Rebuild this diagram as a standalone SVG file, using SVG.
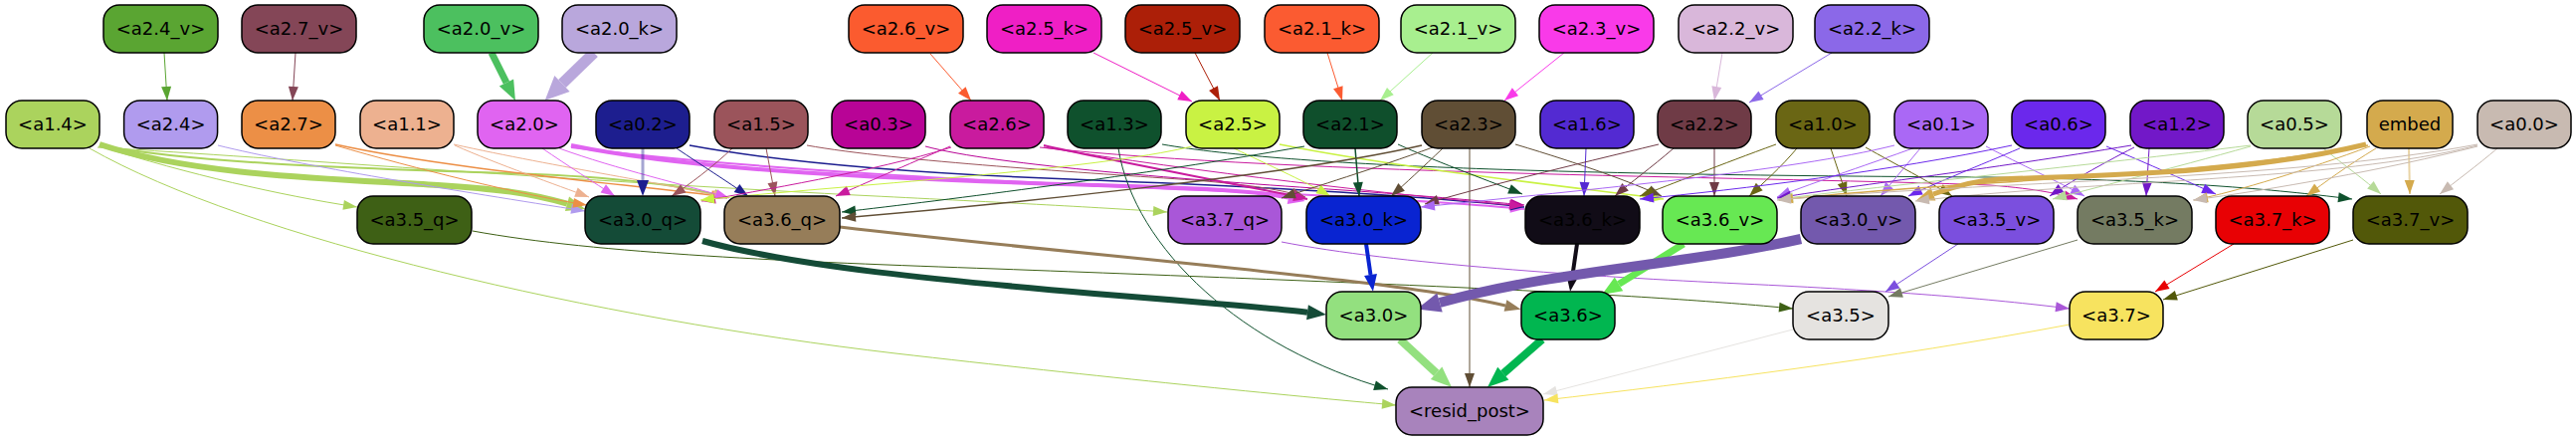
<svg xmlns="http://www.w3.org/2000/svg" width="2589" height="443" viewBox="0 0 2589 443">
<style>
.n rect{stroke:#000;stroke-width:1.5}
.n text{font-family:"DejaVu Sans","Liberation Sans",sans-serif;font-size:18px;text-anchor:middle;fill:#000}
#edges path{fill:none}
marker{overflow:visible}
</style>
<defs>
<marker id="m-a24v" markerUnits="userSpaceOnUse" markerWidth="14" markerHeight="10" refX="14" refY="5" orient="auto"><path d="M0,0L14,5L0,10z" fill="#5aa532"/></marker>
<marker id="m-a27v" markerUnits="userSpaceOnUse" markerWidth="14" markerHeight="10" refX="14" refY="5" orient="auto"><path d="M0,0L14,5L0,10z" fill="#844657"/></marker>
<marker id="m-a26v" markerUnits="userSpaceOnUse" markerWidth="14" markerHeight="10" refX="14" refY="5" orient="auto"><path d="M0,0L14,5L0,10z" fill="#fb5b2f"/></marker>
<marker id="m-a25k" markerUnits="userSpaceOnUse" markerWidth="14" markerHeight="10" refX="14" refY="5" orient="auto"><path d="M0,0L14,5L0,10z" fill="#ef1fc5"/></marker>
<marker id="m-a25v" markerUnits="userSpaceOnUse" markerWidth="14" markerHeight="10" refX="14" refY="5" orient="auto"><path d="M0,0L14,5L0,10z" fill="#ac1f08"/></marker>
<marker id="m-a21k" markerUnits="userSpaceOnUse" markerWidth="14" markerHeight="10" refX="14" refY="5" orient="auto"><path d="M0,0L14,5L0,10z" fill="#fb5b31"/></marker>
<marker id="m-a21v" markerUnits="userSpaceOnUse" markerWidth="14" markerHeight="10" refX="14" refY="5" orient="auto"><path d="M0,0L14,5L0,10z" fill="#a8ef8f"/></marker>
<marker id="m-a23v" markerUnits="userSpaceOnUse" markerWidth="14" markerHeight="10" refX="14" refY="5" orient="auto"><path d="M0,0L14,5L0,10z" fill="#f93ae9"/></marker>
<marker id="m-a22v" markerUnits="userSpaceOnUse" markerWidth="14" markerHeight="10" refX="14" refY="5" orient="auto"><path d="M0,0L14,5L0,10z" fill="#d9b7da"/></marker>
<marker id="m-a22k" markerUnits="userSpaceOnUse" markerWidth="14" markerHeight="10" refX="14" refY="5" orient="auto"><path d="M0,0L14,5L0,10z" fill="#8b68e8"/></marker>
<marker id="m-a14" markerUnits="userSpaceOnUse" markerWidth="14" markerHeight="10" refX="14" refY="5" orient="auto"><path d="M0,0L14,5L0,10z" fill="#abd35d"/></marker>
<marker id="m-a24" markerUnits="userSpaceOnUse" markerWidth="14" markerHeight="10" refX="14" refY="5" orient="auto"><path d="M0,0L14,5L0,10z" fill="#b09bee"/></marker>
<marker id="m-a27" markerUnits="userSpaceOnUse" markerWidth="14" markerHeight="10" refX="14" refY="5" orient="auto"><path d="M0,0L14,5L0,10z" fill="#ec8f46"/></marker>
<marker id="m-a11" markerUnits="userSpaceOnUse" markerWidth="14" markerHeight="10" refX="14" refY="5" orient="auto"><path d="M0,0L14,5L0,10z" fill="#edb190"/></marker>
<marker id="m-a20" markerUnits="userSpaceOnUse" markerWidth="14" markerHeight="10" refX="14" refY="5" orient="auto"><path d="M0,0L14,5L0,10z" fill="#e064f1"/></marker>
<marker id="m-a02" markerUnits="userSpaceOnUse" markerWidth="14" markerHeight="10" refX="14" refY="5" orient="auto"><path d="M0,0L14,5L0,10z" fill="#1d1e8f"/></marker>
<marker id="m-a15" markerUnits="userSpaceOnUse" markerWidth="14" markerHeight="10" refX="14" refY="5" orient="auto"><path d="M0,0L14,5L0,10z" fill="#9b545b"/></marker>
<marker id="m-a03" markerUnits="userSpaceOnUse" markerWidth="14" markerHeight="10" refX="14" refY="5" orient="auto"><path d="M0,0L14,5L0,10z" fill="#b80496"/></marker>
<marker id="m-a26" markerUnits="userSpaceOnUse" markerWidth="14" markerHeight="10" refX="14" refY="5" orient="auto"><path d="M0,0L14,5L0,10z" fill="#c91b9e"/></marker>
<marker id="m-a13" markerUnits="userSpaceOnUse" markerWidth="14" markerHeight="10" refX="14" refY="5" orient="auto"><path d="M0,0L14,5L0,10z" fill="#0f512d"/></marker>
<marker id="m-a25" markerUnits="userSpaceOnUse" markerWidth="14" markerHeight="10" refX="14" refY="5" orient="auto"><path d="M0,0L14,5L0,10z" fill="#c9f243"/></marker>
<marker id="m-a21" markerUnits="userSpaceOnUse" markerWidth="14" markerHeight="10" refX="14" refY="5" orient="auto"><path d="M0,0L14,5L0,10z" fill="#0f4f2c"/></marker>
<marker id="m-a23" markerUnits="userSpaceOnUse" markerWidth="14" markerHeight="10" refX="14" refY="5" orient="auto"><path d="M0,0L14,5L0,10z" fill="#604e35"/></marker>
<marker id="m-a16" markerUnits="userSpaceOnUse" markerWidth="14" markerHeight="10" refX="14" refY="5" orient="auto"><path d="M0,0L14,5L0,10z" fill="#532ad2"/></marker>
<marker id="m-a22" markerUnits="userSpaceOnUse" markerWidth="14" markerHeight="10" refX="14" refY="5" orient="auto"><path d="M0,0L14,5L0,10z" fill="#6f3b46"/></marker>
<marker id="m-a10" markerUnits="userSpaceOnUse" markerWidth="14" markerHeight="10" refX="14" refY="5" orient="auto"><path d="M0,0L14,5L0,10z" fill="#6a6614"/></marker>
<marker id="m-a01" markerUnits="userSpaceOnUse" markerWidth="14" markerHeight="10" refX="14" refY="5" orient="auto"><path d="M0,0L14,5L0,10z" fill="#aa68f5"/></marker>
<marker id="m-a06" markerUnits="userSpaceOnUse" markerWidth="14" markerHeight="10" refX="14" refY="5" orient="auto"><path d="M0,0L14,5L0,10z" fill="#6b28ec"/></marker>
<marker id="m-a12" markerUnits="userSpaceOnUse" markerWidth="14" markerHeight="10" refX="14" refY="5" orient="auto"><path d="M0,0L14,5L0,10z" fill="#7218c8"/></marker>
<marker id="m-a05" markerUnits="userSpaceOnUse" markerWidth="14" markerHeight="10" refX="14" refY="5" orient="auto"><path d="M0,0L14,5L0,10z" fill="#b6da98"/></marker>
<marker id="m-emb" markerUnits="userSpaceOnUse" markerWidth="14" markerHeight="10" refX="14" refY="5" orient="auto"><path d="M0,0L14,5L0,10z" fill="#d4aa4d"/></marker>
<marker id="m-a00" markerUnits="userSpaceOnUse" markerWidth="14" markerHeight="10" refX="14" refY="5" orient="auto"><path d="M0,0L14,5L0,10z" fill="#c8bab1"/></marker>
<marker id="m-a35q" markerUnits="userSpaceOnUse" markerWidth="14" markerHeight="10" refX="14" refY="5" orient="auto"><path d="M0,0L14,5L0,10z" fill="#3e6015"/></marker>
<marker id="m-a37q" markerUnits="userSpaceOnUse" markerWidth="14" markerHeight="10" refX="14" refY="5" orient="auto"><path d="M0,0L14,5L0,10z" fill="#a957d8"/></marker>
<marker id="m-a35v" markerUnits="userSpaceOnUse" markerWidth="14" markerHeight="10" refX="14" refY="5" orient="auto"><path d="M0,0L14,5L0,10z" fill="#7b4fde"/></marker>
<marker id="m-a35k" markerUnits="userSpaceOnUse" markerWidth="14" markerHeight="10" refX="14" refY="5" orient="auto"><path d="M0,0L14,5L0,10z" fill="#747b62"/></marker>
<marker id="m-a37k" markerUnits="userSpaceOnUse" markerWidth="14" markerHeight="10" refX="14" refY="5" orient="auto"><path d="M0,0L14,5L0,10z" fill="#e80104"/></marker>
<marker id="m-a37v" markerUnits="userSpaceOnUse" markerWidth="14" markerHeight="10" refX="14" refY="5" orient="auto"><path d="M0,0L14,5L0,10z" fill="#525809"/></marker>
<marker id="m-a35" markerUnits="userSpaceOnUse" markerWidth="14" markerHeight="10" refX="14" refY="5" orient="auto"><path d="M0,0L14,5L0,10z" fill="#e5e3e0"/></marker>
<marker id="m-a37" markerUnits="userSpaceOnUse" markerWidth="14" markerHeight="10" refX="14" refY="5" orient="auto"><path d="M0,0L14,5L0,10z" fill="#f7e35f"/></marker>
<marker id="b-a20v" markerUnits="userSpaceOnUse" markerWidth="20" markerHeight="16" refX="0" refY="8" orient="auto"><path d="M0,0L20,8L0,16z" fill="#4cc05f"/></marker>
<marker id="b-a20k" markerUnits="userSpaceOnUse" markerWidth="24" markerHeight="22" refX="0" refY="11" orient="auto"><path d="M0,0L24,11L0,22z" fill="#b9a7dc"/></marker>
<marker id="b-a14" markerUnits="userSpaceOnUse" markerWidth="19" markerHeight="15" refX="0" refY="7.5" orient="auto"><path d="M0,0L19,7.5L0,15z" fill="#abd35d"/></marker>
<marker id="b-a20" markerUnits="userSpaceOnUse" markerWidth="17" markerHeight="13" refX="0" refY="6.5" orient="auto"><path d="M0,0L17,6.5L0,13z" fill="#e064f1"/></marker>
<marker id="b-emb" markerUnits="userSpaceOnUse" markerWidth="18" markerHeight="14" refX="0" refY="7" orient="auto"><path d="M0,0L18,7L0,14z" fill="#d4aa4d"/></marker>
<marker id="b-a02" markerUnits="userSpaceOnUse" markerWidth="16" markerHeight="12" refX="0" refY="6" orient="auto"><path d="M0,0L16,6L0,12z" fill="#1d1e8f"/></marker>
<marker id="b-a30q" markerUnits="userSpaceOnUse" markerWidth="19" markerHeight="15" refX="0" refY="7.5" orient="auto"><path d="M0,0L19,7.5L0,15z" fill="#144b37"/></marker>
<marker id="b-a36q" markerUnits="userSpaceOnUse" markerWidth="16" markerHeight="12" refX="0" refY="6" orient="auto"><path d="M0,0L16,6L0,12z" fill="#967d59"/></marker>
<marker id="b-a30k" markerUnits="userSpaceOnUse" markerWidth="17" markerHeight="13" refX="0" refY="6.5" orient="auto"><path d="M0,0L17,6.5L0,13z" fill="#0924d1"/></marker>
<marker id="b-a36k" markerUnits="userSpaceOnUse" markerWidth="17" markerHeight="13" refX="0" refY="6.5" orient="auto"><path d="M0,0L17,6.5L0,13z" fill="#110c17"/></marker>
<marker id="b-a36v" markerUnits="userSpaceOnUse" markerWidth="20" markerHeight="16" refX="0" refY="8" orient="auto"><path d="M0,0L20,8L0,16z" fill="#67e853"/></marker>
<marker id="b-a30v" markerUnits="userSpaceOnUse" markerWidth="24" markerHeight="20" refX="0" refY="10" orient="auto"><path d="M0,0L24,10L0,20z" fill="#7359ad"/></marker>
<marker id="b-a30" markerUnits="userSpaceOnUse" markerWidth="21" markerHeight="17" refX="0" refY="8.5" orient="auto"><path d="M0,0L21,8.5L0,17z" fill="#93e07f"/></marker>
<marker id="b-a36" markerUnits="userSpaceOnUse" markerWidth="21" markerHeight="17" refX="0" refY="8.5" orient="auto"><path d="M0,0L21,8.5L0,17z" fill="#01b650"/></marker>
</defs>
<g id="edges">
<path d="M165,53 L168,101" stroke="#5aa532" marker-end="url(#m-a24v)"/>
<path d="M297,53 L294,101" stroke="#844657" marker-end="url(#m-a27v)"/>
<path d="M494,53 L509,83" stroke="#4cc05f" stroke-width="7" marker-end="url(#b-a20v)"/>
<path d="M597,53 L565,84" stroke="#b9a7dc" stroke-width="11" marker-end="url(#b-a20k)"/>
<path d="M935,54 L976,101" stroke="#fb5b2f" marker-end="url(#m-a26v)"/>
<path d="M1099,53 L1198,102" stroke="#ef1fc5" marker-end="url(#m-a25k)"/>
<path d="M1201,53 L1226,101" stroke="#ac1f08" marker-end="url(#m-a25v)"/>
<path d="M1334,53 L1349,101" stroke="#fb5b31" marker-end="url(#m-a21k)"/>
<path d="M1440,53 L1387,101" stroke="#a8ef8f" marker-end="url(#m-a21v)"/>
<path d="M1572,53 L1512,101" stroke="#f93ae9" marker-end="url(#m-a23v)"/>
<path d="M1731,53 L1723,101" stroke="#d9b7da" marker-end="url(#m-a22v)"/>
<path d="M1841,53 L1758,103" stroke="#8b68e8" marker-end="url(#m-a22k)"/>

<path d="M100,147 C190,175 280,196 359,208" stroke="#abd35d" marker-end="url(#m-a14)"/>
<path d="M100,145 C200,178 350,180 440,186 C500,190 531,193.5 570,204.7" stroke="#abd35d" stroke-width="6" marker-end="url(#b-a14)"/>
<path d="M100,146 C220,168 420,170 560,176 C650,181 700,189 731,199" stroke="#abd35d" stroke-width="2" marker-end="url(#m-a14)"/>
<path d="M98,148 C300,160 520,178 860,196 C1000,203 1100,208 1173,213" stroke="#abd35d" marker-end="url(#m-a14)"/>
<path d="M90,149 C250,240 600,320 900,355 C1100,378 1300,398 1403,407" stroke="#abd35d" marker-end="url(#m-a14)"/>
<path d="M219,146 C300,166 460,192 588,212" stroke="#b09bee" marker-end="url(#m-a24)"/>
<path d="M337,146 C420,170 520,195 590,206" stroke="#ec8f46" marker-end="url(#m-a27)"/>
<path d="M337,145 C450,170 640,186 729,198" stroke="#ec8f46" stroke-width="1.5" marker-end="url(#m-a27)"/>
<path d="M457,146 C500,165 560,186 592,198" stroke="#edb190" marker-end="url(#m-a11)"/>
<path d="M456,145 C560,168 680,186 730,199" stroke="#edb190" marker-end="url(#m-a11)"/>
<path d="M545,149 C570,166 598,184 618,197" stroke="#e064f1" marker-end="url(#m-a20)"/>
<path d="M562,149 C620,170 690,186 733,199" stroke="#e064f1" marker-end="url(#m-a20)"/>
<path d="M574,146 C700,172 900,180 1100,186 C1200,189 1256,190.6 1295,198.6" stroke="#e064f1" stroke-width="4" marker-end="url(#b-a20)"/>
<path d="M574,148 C800,176 1100,186 1300,195 C1420,201 1490,206 1532,210" stroke="#e064f1" stroke-width="2" marker-end="url(#m-a20)"/>
<path d="M646,149 L646,181" stroke="#1d1e8f" stroke-opacity="0.4" stroke-width="3" marker-end="url(#b-a02)"/>
<path d="M680,149 C705,166 732,183 752,197" stroke="#1d1e8f" marker-end="url(#m-a02)"/>
<path d="M693,146 C780,162 900,174 1100,181 C1300,189 1450,199 1532,208" stroke="#1d1e8f" stroke-width="1.5" marker-end="url(#m-a02)"/>
<path d="M736,149 C716,168 692,186 675,197" stroke="#9b545b" marker-end="url(#m-a15)"/>
<path d="M770,149 L779,197" stroke="#9b545b" marker-end="url(#m-a15)"/>
<path d="M811,146 C900,162 1100,174 1200,181 C1260,186 1290,191 1312,198" stroke="#9b545b" marker-end="url(#m-a15)"/>
<path d="M930,147 C1000,166 1200,181 1350,191 C1450,198 1500,203 1532,206" stroke="#b80496" marker-end="url(#m-a03)"/>
<path d="M955,147 C910,166 870,184 840,197" stroke="#c91b9e" marker-end="url(#m-a26)"/>
<path d="M956,148 C880,172 760,192 705,202" stroke="#c91b9e" marker-end="url(#m-a26)"/>
<path d="M1049,146 C1120,162 1250,186 1314,200" stroke="#c91b9e" stroke-width="2" marker-end="url(#m-a26)"/>
<path d="M1049,148 C1200,172 1400,196 1531,207" stroke="#c91b9e" marker-end="url(#m-a26)"/>
<path d="M1045,148 C1300,176 1800,178 2000,186 C2050,190 2070,195 2088,200" stroke="#c91b9e" marker-end="url(#m-a26)"/>
<path d="M1124,149 C1140,250 1250,350 1395,391" stroke="#0f512d" marker-end="url(#m-a13)"/>
<path d="M1168,145 C1300,168 1600,176 2000,178 C2200,181 2300,192 2364,200" stroke="#0f512d" marker-end="url(#m-a13)"/>
<path d="M1198,147 C1100,171 850,186 704,201" stroke="#c9f243" marker-end="url(#m-a25)"/>
<path d="M1240,149 C1280,168 1315,184 1337,197" stroke="#c9f243" marker-end="url(#m-a25)"/>
<path d="M1286,145 C1400,168 1580,188 1672,200" stroke="#c9f243" stroke-width="1.5" marker-end="url(#m-a25)"/>
<path d="M1362,149 L1366,197" stroke="#0f4f2c" stroke-width="1.5" marker-end="url(#m-a21)"/>
<path d="M1405,145 C1450,165 1500,183 1530,195" stroke="#0f4f2c" marker-end="url(#m-a21)"/>
<path d="M1311,147 C1150,176 950,201 846,213" stroke="#0f4f2c" marker-end="url(#m-a21)"/>
<path d="M1450,149 C1430,168 1412,185 1398,197" stroke="#604e35" marker-end="url(#m-a23)"/>
<path d="M1429,146 C1300,176 1000,206 846,219" stroke="#604e35" stroke-width="1.5" marker-end="url(#m-a23)"/>
<path d="M1440,148 C1380,170 1320,188 1288,199" stroke="#604e35" marker-end="url(#m-a23)"/>
<path d="M1477,149 L1477,389" stroke="#604e35" marker-end="url(#m-a23)"/>
<path d="M1523,145 C1590,165 1640,183 1670,197" stroke="#604e35" marker-end="url(#m-a23)"/>
<path d="M1594,149 L1592,197" stroke="#532ad2" marker-end="url(#m-a16)"/>
<path d="M1682,149 C1660,168 1638,184 1623,197" stroke="#6f3b46" marker-end="url(#m-a22)"/>
<path d="M1723,149 L1723,197" stroke="#6f3b46" marker-end="url(#m-a22)"/>
<path d="M1667,145 C1580,166 1480,190 1432,205" stroke="#6f3b46" marker-end="url(#m-a22)"/>
<path d="M1806,149 C1790,168 1772,184 1758,197" stroke="#6a6614" marker-end="url(#m-a10)"/>
<path d="M1840,149 L1856,197" stroke="#6a6614" marker-end="url(#m-a10)"/>
<path d="M1875,148 C1905,165 1940,183 1962,197" stroke="#6a6614" marker-end="url(#m-a10)"/>
<path d="M1785,145 C1730,165 1680,185 1648,197" stroke="#6a6614" marker-end="url(#m-a10)"/>
<path d="M1928,147 C1870,168 1812,187 1786,198" stroke="#aa68f5" marker-end="url(#m-a01)"/>
<path d="M1930,149 L1890,197" stroke="#aa68f5" marker-end="url(#m-a01)"/>
<path d="M1996,147 C2030,165 2070,183 2095,197" stroke="#aa68f5" marker-end="url(#m-a01)"/>
<path d="M1904,146 C1800,172 1600,190 1428,208" stroke="#aa68f5" marker-end="url(#m-a01)"/>
<path d="M2022,146 C1900,172 1750,190 1648,200" stroke="#6b28ec" marker-end="url(#m-a06)"/>
<path d="M2030,149 C1990,166 1945,184 1918,197" stroke="#6b28ec" marker-end="url(#m-a06)"/>
<path d="M2117,147 C2160,165 2200,183 2227,195" stroke="#6b28ec" marker-end="url(#m-a06)"/>
<path d="M2160,149 L2157,197" stroke="#7218c8" marker-end="url(#m-a12)"/>
<path d="M2145,148 C2110,166 2080,183 2060,197" stroke="#7218c8" marker-end="url(#m-a12)"/>
<path d="M2142,146 C2000,170 1850,188 1786,199" stroke="#7218c8" marker-end="url(#m-a12)"/>
<path d="M2335,149 C2355,165 2378,182 2393,195" stroke="#b6da98" marker-end="url(#m-a05)"/>
<path d="M2262,147 C2180,170 2100,190 2063,200" stroke="#b6da98" marker-end="url(#m-a05)"/>
<path d="M2262,146 C2100,166 1900,186 1788,200" stroke="#b6da98" marker-end="url(#m-a05)"/>
<path d="M2421,149 L2422,195" stroke="#d4aa4d" stroke-opacity="0.5" stroke-width="2" marker-end="url(#m-emb)"/>
<path d="M2388,149 C2360,166 2335,184 2318,197" stroke="#d4aa4d" marker-end="url(#m-emb)"/>
<path d="M2378,145 C2250,176 2100,176 2010,180 C1990,181 1971,184.7 1943,195" stroke="#d4aa4d" stroke-width="5" marker-end="url(#b-emb)"/>
<path d="M2382,147 C2320,170 2250,192 2205,201" stroke="#d4aa4d" marker-end="url(#m-emb)"/>
<path d="M2380,146 C2200,179 1950,182 1788,201" stroke="#d4aa4d" stroke-width="1.5" marker-end="url(#m-emb)"/>
<path d="M2510,149 C2490,166 2467,183 2452,195" stroke="#c8bab1" marker-end="url(#m-a00)"/>
<path d="M2490,147 C2400,170 2280,191 2204,201" stroke="#c8bab1" marker-end="url(#m-a00)"/>
<path d="M2490,146 C2350,182 2100,181 1925,202" stroke="#c8bab1" marker-end="url(#m-a00)"/>
<path d="M2490,145 C2300,181 2000,182 1786,201" stroke="#c8bab1" marker-end="url(#m-a00)"/>

<path d="M475,232 C600,255 800,263 1000,270 C1400,285 1650,295 1802,310" stroke="#3e6015" marker-end="url(#m-a35q)"/>
<path d="M706,242 C800,268 950,282 1100,295 C1200,303 1275,309 1314,313.7" stroke="#144b37" stroke-width="6" marker-end="url(#b-a30q)"/>
<path d="M844,228 C1100,258 1400,280 1513,307" stroke="#967d59" stroke-width="3" marker-end="url(#b-a36q)"/>
<path d="M1288,243 C1400,265 1600,278 1750,285 C1900,292 2000,300 2080,310" stroke="#a957d8" marker-end="url(#m-a37q)"/>
<path d="M1373,245 L1377.5,276" stroke="#0924d1" stroke-width="4" marker-end="url(#b-a30k)"/>
<path d="M1585,245 L1580.5,276" stroke="#110c17" stroke-width="4" marker-end="url(#b-a36k)"/>
<path d="M1692,245 L1627,285.4" stroke="#67e853" stroke-width="7" marker-end="url(#b-a36v)"/>
<path d="M1810,240 C1700,265 1560,272 1447,304" stroke="#7359ad" stroke-width="10" marker-end="url(#b-a30v)"/>
<path d="M1968,245 L1895,293" stroke="#7b4fde" marker-end="url(#m-a35v)"/>
<path d="M2088,241 L1898,298" stroke="#747b62" marker-end="url(#m-a35k)"/>
<path d="M2245,245 L2166,293" stroke="#e80104" marker-end="url(#m-a37k)"/>
<path d="M2365,241 L2174,301" stroke="#525809" marker-end="url(#m-a37v)"/>
<path d="M1407,341 L1443.6,374.8" stroke="#93e07f" stroke-width="8" marker-end="url(#b-a30)"/>
<path d="M1550,341 L1510.8,375.2" stroke="#01b650" stroke-width="8" marker-end="url(#b-a36)"/>
<path d="M1802,331 L1551,396" stroke="#e5e3e0" marker-end="url(#m-a35)"/>
<path d="M2080,326 C1900,360 1700,385 1552,402" stroke="#f7e35f" marker-end="url(#m-a37)"/>
</g>

<g id="n-a2.4_v" class="n"><rect x="104" y="5" width="115" height="48" rx="16" fill="#5aa532"/><text x="161.5" y="35">&lt;a2.4_v&gt;</text></g>
<g id="n-a2.7_v" class="n"><rect x="243" y="5" width="115" height="48" rx="16" fill="#844657"/><text x="300.5" y="35">&lt;a2.7_v&gt;</text></g>
<g id="n-a2.0_v" class="n"><rect x="426" y="5" width="115" height="48" rx="16" fill="#4cc05f"/><text x="483.5" y="35">&lt;a2.0_v&gt;</text></g>
<g id="n-a2.0_k" class="n"><rect x="565" y="5" width="115" height="48" rx="16" fill="#b9a7dc"/><text x="622.5" y="35">&lt;a2.0_k&gt;</text></g>
<g id="n-a2.6_v" class="n"><rect x="853" y="5" width="115" height="48" rx="16" fill="#fb5b2f"/><text x="910.5" y="35">&lt;a2.6_v&gt;</text></g>
<g id="n-a2.5_k" class="n"><rect x="992" y="5" width="115" height="48" rx="16" fill="#ef1fc5"/><text x="1049.5" y="35">&lt;a2.5_k&gt;</text></g>
<g id="n-a2.5_v" class="n"><rect x="1131" y="5" width="115" height="48" rx="16" fill="#ac1f08"/><text x="1188.5" y="35">&lt;a2.5_v&gt;</text></g>
<g id="n-a2.1_k" class="n"><rect x="1271" y="5" width="115" height="48" rx="16" fill="#fb5b31"/><text x="1328.5" y="35">&lt;a2.1_k&gt;</text></g>
<g id="n-a2.1_v" class="n"><rect x="1408" y="5" width="115" height="48" rx="16" fill="#a8ef8f"/><text x="1465.5" y="35">&lt;a2.1_v&gt;</text></g>
<g id="n-a2.3_v" class="n"><rect x="1547" y="5" width="115" height="48" rx="16" fill="#f93ae9"/><text x="1604.5" y="35">&lt;a2.3_v&gt;</text></g>
<g id="n-a2.2_v" class="n"><rect x="1687" y="5" width="115" height="48" rx="16" fill="#d9b7da"/><text x="1744.5" y="35">&lt;a2.2_v&gt;</text></g>
<g id="n-a2.2_k" class="n"><rect x="1824" y="5" width="115" height="48" rx="16" fill="#8b68e8"/><text x="1881.5" y="35">&lt;a2.2_k&gt;</text></g>

<g id="n-a1.4" class="n"><rect x="6" y="101" width="94" height="48" rx="16" fill="#abd35d"/><text x="53" y="131">&lt;a1.4&gt;</text></g>
<g id="n-a2.4" class="n"><rect x="124.6" y="101" width="94" height="48" rx="16" fill="#b09bee"/><text x="171.6" y="131">&lt;a2.4&gt;</text></g>
<g id="n-a2.7" class="n"><rect x="243" y="101" width="94" height="48" rx="16" fill="#ec8f46"/><text x="290" y="131">&lt;a2.7&gt;</text></g>
<g id="n-a1.1" class="n"><rect x="362" y="101" width="94" height="48" rx="16" fill="#edb190"/><text x="409" y="131">&lt;a1.1&gt;</text></g>
<g id="n-a2.0" class="n"><rect x="480" y="101" width="94" height="48" rx="16" fill="#e064f1"/><text x="527" y="131">&lt;a2.0&gt;</text></g>
<g id="n-a0.2" class="n"><rect x="599" y="101" width="94" height="48" rx="16" fill="#1d1e8f"/><text x="646" y="131">&lt;a0.2&gt;</text></g>
<g id="n-a1.5" class="n"><rect x="718" y="101" width="94" height="48" rx="16" fill="#9b545b"/><text x="765" y="131">&lt;a1.5&gt;</text></g>
<g id="n-a0.3" class="n"><rect x="836" y="101" width="94" height="48" rx="16" fill="#b80496"/><text x="883" y="131">&lt;a0.3&gt;</text></g>
<g id="n-a2.6" class="n"><rect x="955" y="101" width="94" height="48" rx="16" fill="#c91b9e"/><text x="1002" y="131">&lt;a2.6&gt;</text></g>
<g id="n-a1.3" class="n"><rect x="1073" y="101" width="94" height="48" rx="16" fill="#0f512d"/><text x="1120" y="131">&lt;a1.3&gt;</text></g>
<g id="n-a2.5" class="n"><rect x="1192" y="101" width="94" height="48" rx="16" fill="#c9f243"/><text x="1239" y="131">&lt;a2.5&gt;</text></g>
<g id="n-a2.1" class="n"><rect x="1310" y="101" width="94" height="48" rx="16" fill="#0f4f2c"/><text x="1357" y="131">&lt;a2.1&gt;</text></g>
<g id="n-a2.3" class="n"><rect x="1429" y="101" width="94" height="48" rx="16" fill="#604e35"/><text x="1476" y="131">&lt;a2.3&gt;</text></g>
<g id="n-a1.6" class="n"><rect x="1548" y="101" width="94" height="48" rx="16" fill="#532ad2"/><text x="1595" y="131">&lt;a1.6&gt;</text></g>
<g id="n-a2.2" class="n"><rect x="1666" y="101" width="94" height="48" rx="16" fill="#6f3b46"/><text x="1713" y="131">&lt;a2.2&gt;</text></g>
<g id="n-a1.0" class="n"><rect x="1785" y="101" width="94" height="48" rx="16" fill="#6a6614"/><text x="1832" y="131">&lt;a1.0&gt;</text></g>
<g id="n-a0.1" class="n"><rect x="1904" y="101" width="94" height="48" rx="16" fill="#aa68f5"/><text x="1951" y="131">&lt;a0.1&gt;</text></g>
<g id="n-a0.6" class="n"><rect x="2022" y="101" width="94" height="48" rx="16" fill="#6b28ec"/><text x="2069" y="131">&lt;a0.6&gt;</text></g>
<g id="n-a1.2" class="n"><rect x="2141" y="101" width="94" height="48" rx="16" fill="#7218c8"/><text x="2188" y="131">&lt;a1.2&gt;</text></g>
<g id="n-a0.5" class="n"><rect x="2259" y="101" width="94" height="48" rx="16" fill="#b6da98"/><text x="2306" y="131">&lt;a0.5&gt;</text></g>
<g id="n-embed" class="n"><rect x="2379" y="101" width="86" height="48" rx="16" fill="#d4aa4d"/><text x="2422" y="131">embed</text></g>
<g id="n-a0.0" class="n"><rect x="2490" y="101" width="94" height="48" rx="16" fill="#c8bab1"/><text x="2537" y="131">&lt;a0.0&gt;</text></g>

<g id="n-a3.5_q" class="n"><rect x="359" y="197" width="115" height="48" rx="16" fill="#3e6015"/><text x="416.5" y="227">&lt;a3.5_q&gt;</text></g>
<g id="n-a3.0_q" class="n"><rect x="588" y="197" width="116" height="48" rx="16" fill="#144b37"/><text x="646" y="227">&lt;a3.0_q&gt;</text></g>
<g id="n-a3.6_q" class="n"><rect x="728" y="197" width="116" height="48" rx="16" fill="#967d59"/><text x="786" y="227">&lt;a3.6_q&gt;</text></g>
<g id="n-a3.7_q" class="n"><rect x="1174" y="197" width="114" height="48" rx="16" fill="#a957d8"/><text x="1231" y="227">&lt;a3.7_q&gt;</text></g>
<g id="n-a3.0_k" class="n"><rect x="1313" y="197" width="115" height="48" rx="16" fill="#0924d1"/><text x="1370.5" y="227">&lt;a3.0_k&gt;</text></g>
<g id="n-a3.6_k" class="n"><rect x="1533" y="197" width="115" height="48" rx="16" fill="#110c17"/><text x="1590.5" y="227">&lt;a3.6_k&gt;</text></g>
<g id="n-a3.6_v" class="n"><rect x="1671" y="197" width="115" height="48" rx="16" fill="#67e853"/><text x="1728.5" y="227">&lt;a3.6_v&gt;</text></g>
<g id="n-a3.0_v" class="n"><rect x="1810" y="197" width="115" height="48" rx="16" fill="#7359ad"/><text x="1867.5" y="227">&lt;a3.0_v&gt;</text></g>
<g id="n-a3.5_v" class="n"><rect x="1949" y="197" width="115" height="48" rx="16" fill="#7b4fde"/><text x="2006.5" y="227">&lt;a3.5_v&gt;</text></g>
<g id="n-a3.5_k" class="n"><rect x="2088" y="197" width="115" height="48" rx="16" fill="#747b62"/><text x="2145.5" y="227">&lt;a3.5_k&gt;</text></g>
<g id="n-a3.7_k" class="n"><rect x="2227" y="197" width="114" height="48" rx="16" fill="#e80104"/><text x="2284" y="227">&lt;a3.7_k&gt;</text></g>
<g id="n-a3.7_v" class="n"><rect x="2365" y="197" width="115" height="48" rx="16" fill="#525809"/><text x="2422.5" y="227">&lt;a3.7_v&gt;</text></g>

<g id="n-a3.0" class="n"><rect x="1333" y="293" width="95" height="48" rx="16" fill="#93e07f"/><text x="1380.5" y="323">&lt;a3.0&gt;</text></g>
<g id="n-a3.6" class="n"><rect x="1529" y="293" width="94" height="48" rx="16" fill="#01b650"/><text x="1576" y="323">&lt;a3.6&gt;</text></g>
<g id="n-a3.5" class="n"><rect x="1802" y="293" width="96" height="48" rx="16" fill="#e5e3e0"/><text x="1850" y="323">&lt;a3.5&gt;</text></g>
<g id="n-a3.7" class="n"><rect x="2080" y="293" width="94" height="48" rx="16" fill="#f7e35f"/><text x="2127" y="323">&lt;a3.7&gt;</text></g>

<g id="n-resid_post" class="n"><rect x="1403" y="389" width="148" height="48" rx="16" fill="#a883bc"/><text x="1477" y="419">&lt;resid_post&gt;</text></g>
</svg>
